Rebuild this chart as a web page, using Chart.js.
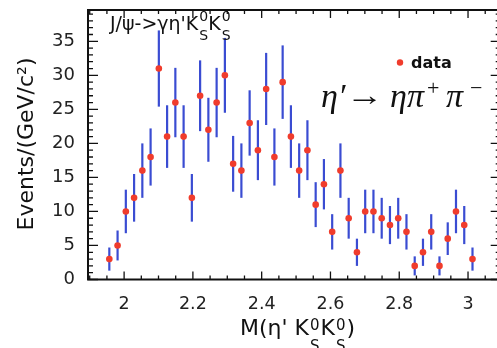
<!DOCTYPE html>
<html>
<head>
<meta charset="utf-8">
<script src="https://cdn.jsdelivr.net/npm/chart.js@4.4.0/dist/chart.umd.min.js"></script>
<style>
  html, body { margin: 0; padding: 0; background: #fff; overflow: hidden; }
  #wrap { width: 504px; height: 348px; }
</style>
</head>
<body>
<div id="wrap"><canvas id="plot" width="504" height="348"></canvas></div>
<script>
// bin centres of M(eta' Ks Ks), GeV/c^2
var massBins = [1.957, 1.981, 2.005, 2.029, 2.053, 2.077, 2.101, 2.125, 2.149, 2.173,
                2.197, 2.221, 2.245, 2.269, 2.293, 2.317, 2.341, 2.365, 2.389, 2.413,
                2.437, 2.461, 2.485, 2.509, 2.533, 2.557, 2.581, 2.605, 2.629, 2.653,
                2.677, 2.701, 2.725, 2.749, 2.773, 2.797, 2.821, 2.845, 2.869, 2.893,
                2.917, 2.941, 2.965, 2.989, 3.013];
// events per bin
var events = [3, 5, 10, 12, 16, 18, 31, 21, 26, 21,
              12, 27, 22, 26, 30, 17, 16, 23, 19, 28,
              18, 29, 21, 16, 19, 11, 14, 7, 16, 9,
              4, 10, 10, 9, 8, 9, 7, 2, 4, 7,
              2, 6, 10, 8, 3];
// error bar half lengths
var eventErr = [1.7, 2.2, 3.2, 3.5, 4.0, 4.2, 5.6, 4.6, 5.1, 4.6,
                3.5, 5.2, 4.7, 5.1, 5.5, 4.1, 4.0, 4.8, 4.4, 5.3,
                4.2, 5.4, 4.6, 4.0, 4.4, 3.3, 3.7, 2.6, 4.0, 3.0,
                2.0, 3.2, 3.2, 3.0, 2.8, 3.0, 2.6, 1.4, 2.0, 2.6,
                1.4, 2.4, 3.2, 2.8, 1.7];
var xTickLabels = [2, 2.2, 2.4, 2.6, 2.8, 3];
var yTickLabels = [0, 5, 10, 15, 20, 25, 30, 35];

var points = massBins.map(function(m, i) { return { x: m, y: events[i] }; });

var SANS = '"DejaVu Sans", sans-serif';
var SERIF = '"Liberation Serif", "DejaVu Serif", serif';

// draws "0" over "S" (K0_S style) and returns the width used
function supSub(ctx, x, base, sup, sub, size, supRise, subDrop) {
    ctx.font = size + 'px ' + SANS;
    ctx.fillText(sup, x, base - supRise);
    ctx.fillText(sub, x, base + subDrop);
    return Math.max(ctx.measureText(sup).width, ctx.measureText(sub).width);
}

var errorBars = {
    id: 'errorBars',
    beforeDatasetsDraw: function(chart) {
        var ctx = chart.ctx, xs = chart.scales.x, ys = chart.scales.y;
        ctx.save();
        ctx.strokeStyle = '#3a4cd2';
        ctx.lineWidth = 2.2;
        massBins.forEach(function(m, i) {
            var px = xs.getPixelForValue(m);
            ctx.beginPath();
            ctx.moveTo(px, ys.getPixelForValue(events[i] - eventErr[i]));
            ctx.lineTo(px, ys.getPixelForValue(events[i] + eventErr[i]));
            ctx.stroke();
        });
        ctx.restore();
    }
};

var frame = {
    id: 'frame',
    afterDraw: function(chart) {
        var ctx = chart.ctx, a = chart.chartArea, xs = chart.scales.x, ys = chart.scales.y;
        ctx.save();
        ctx.strokeStyle = '#111';
        ctx.lineWidth = 1.3;
        ctx.beginPath();
        // ROOT style ticks, inside the frame, on all four sides
        for (var k = 38; k <= 61; k++) {
            var px = xs.getPixelForValue(k * 0.05);
            var len = (k % 4 === 0) ? 8 : 4;
            ctx.moveTo(px, a.bottom); ctx.lineTo(px, a.bottom - len);
            ctx.moveTo(px, a.top); ctx.lineTo(px, a.top + len);
        }
        for (var j = 0; j <= 39; j++) {
            var py = ys.getPixelForValue(j);
            var l2 = (j % 5 === 0) ? 10 : 5;
            ctx.moveTo(a.left, py); ctx.lineTo(a.left + l2, py);
            ctx.moveTo(a.right, py); ctx.lineTo(a.right - l2, py);
        }
        ctx.stroke();
        ctx.lineWidth = 2;
        ctx.strokeRect(a.left, a.top, a.right - a.left, a.bottom - a.top);

        ctx.fillStyle = '#111';
        ctx.textBaseline = 'alphabetic';
        ctx.textAlign = 'left';

        // process label top left
        var x = 110, base = 30;
        ctx.font = '19px ' + SANS;
        ctx.fillText("J/\u03c8->\u03b3\u03b7'K", x, base);
        x += ctx.measureText("J/\u03c8->\u03b3\u03b7'K").width;
        x += supSub(ctx, x + 1, base, '0', 'S', 14, 9, 10) + 1;
        ctx.font = '19px ' + SANS;
        ctx.fillText('K', x, base);
        x += ctx.measureText('K').width;
        supSub(ctx, x + 1, base, '0', 'S', 14, 9, 10);

        // x axis title
        ctx.font = '22px ' + SANS;
        var t1 = "M(\u03b7' K", t2 = 'K', t3 = ')';
        var w = ctx.measureText(t1).width + ctx.measureText(t2).width + ctx.measureText(t3).width + 2 * 11;
        x = 297 - w / 2; base = 335;
        ctx.fillText(t1, x, base);
        x += ctx.measureText(t1).width;
        x += supSub(ctx, x + 1, base, '0', 'S', 15, 5, 16) + 2;
        ctx.font = '22px ' + SANS;
        ctx.fillText(t2, x, base);
        x += ctx.measureText(t2).width;
        x += supSub(ctx, x + 1, base, '0', 'S', 15, 5, 16) + 2;
        ctx.font = '22px ' + SANS;
        ctx.fillText(t3, x, base);

        // y axis title
        ctx.save();
        ctx.translate(33, 144);
        ctx.rotate(-Math.PI / 2);
        ctx.textAlign = 'center';
        ctx.font = '22px ' + SANS;
        ctx.fillText('Events/(GeV/c\u00b2)', 0, 0);
        ctx.restore();

        // legend
        ctx.fillStyle = '#f03c2c';
        ctx.beginPath();
        ctx.arc(400, 62.5, 3.2, 0, Math.PI * 2);
        ctx.fill();
        ctx.fillStyle = '#111';
        ctx.font = 'bold 16px ' + SANS;
        ctx.fillText('data', 411, 68);

        // decay annotation
        base = 107;
        ctx.font = 'italic 34px ' + SERIF;
        ctx.fillText('\u03b7', 321, base);
        ctx.fillText('\u2032', 338, base);
        // long thin arrow
        ctx.save();
        ctx.translate(346, base - 2);
        ctx.scale(1.25, 1);
        ctx.font = '30px ' + SERIF;
        ctx.fillText('\u2192', 0, 0);
        ctx.restore();
        ctx.font = 'italic 34px ' + SERIF;
        ctx.fillText('\u03b7', 390, base);
        ctx.fillText('\u03c0', 407, base);
        ctx.font = '22px ' + SERIF;
        ctx.fillText('+', 427, base - 12);
        ctx.font = 'italic 34px ' + SERIF;
        ctx.fillText('\u03c0', 446, base);
        ctx.font = '22px ' + SERIF;
        ctx.fillText('\u2212', 470, base - 12);
        ctx.restore();
    }
};

new Chart(document.getElementById('plot'), {
    type: 'scatter',
    data: {
        datasets: [{
            label: 'data',
            data: points,
            pointRadius: 3.3,
            pointHoverRadius: 3.3,
            backgroundColor: '#f03c2c',
            borderWidth: 0
        }]
    },
    options: {
        responsive: false,
        animation: false,
        devicePixelRatio: 1,
        layout: { padding: { top: 10, right: 0, bottom: 0, left: 0 } },
        plugins: { legend: { display: false }, tooltip: { enabled: false } },
        scales: {
            x: {
                type: 'linear',
                min: 1.895,
                max: 3.095,
                grid: { display: false },
                border: { display: false },
                afterBuildTicks: function(s) { s.ticks = xTickLabels.map(function(v) { return { value: v }; }); },
                afterFit: function(s) { s.height = 68.5; },
                ticks: {
                    font: { family: SANS, size: 17.5 },
                    color: '#222',
                    padding: 6,
                    maxRotation: 0,
                    autoSkip: false,
                    callback: function(v) { return String(v); }
                }
            },
            y: {
                type: 'linear',
                min: 0,
                max: 39.6,
                grid: { display: false },
                border: { display: false },
                afterBuildTicks: function(s) { s.ticks = yTickLabels.map(function(v) { return { value: v }; }); },
                afterFit: function(s) { s.width = 88; s.paddingTop = 0; s.paddingBottom = 0; },
                ticks: {
                    font: { family: SANS, size: 18 },
                    color: '#222',
                    padding: 5,
                    autoSkip: false,
                    callback: function(v) { return String(v); }
                }
            }
        }
    },
    plugins: [errorBars, frame]
});
</script>
</body>
</html>
